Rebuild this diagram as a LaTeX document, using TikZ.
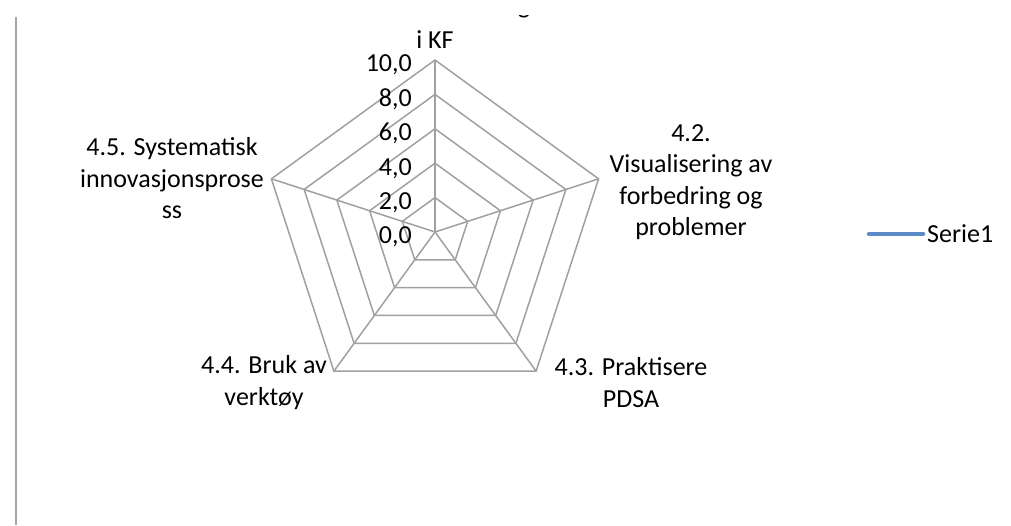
\documentclass[tikz,border=0pt]{standalone}
\usepackage{fontspec}
\setmainfont{Carlito}
\definecolor{gridgray}{HTML}{A0A0A0}
\definecolor{axisgray}{HTML}{A6A6A6}
\definecolor{serieblue}{HTML}{5B8BC8}
\begin{document}
\begin{tikzpicture}[x=1pt,y=1pt,
  grid/.style={draw=gridgray, line width=1.5pt, line join=miter},
  lbl/.style={align=center, font=\fontsize{26}{31.5}\selectfont, inner sep=0pt, anchor=base},
  ticklbl/.style={anchor=base east, font=\fontsize{26}{31.5}\selectfont, inner sep=0pt}]
\useasboundingbox (0,0) rectangle (1011,525);
% left frame line
\coordinate (ftop) at (15.5,508);
\coordinate (fbot) at (15.5,0);
\draw[axisgray, line width=2pt] (ftop) -- (fbot);
% clipped title fragment
\begin{scope}
  \clip (0,0) rectangle (1011,509.5);
  \node[lbl] (clipg) at (524,511.5) {g};
\end{scope}
% centre and vertices
\coordinate (C) at (435,293);
\foreach \i/\a in {1/90,2/18,3/-54,4/-126,5/162}{
  \coordinate (v\i) at ([shift={(\a:172)}]C);
}
% rings
\foreach \r in {34.4,68.8,103.2,137.6,172}{
  \draw[grid] ([shift={(90:\r)}]C) -- ([shift={(18:\r)}]C) -- ([shift={(-54:\r)}]C)
     -- ([shift={(-126:\r)}]C) -- ([shift={(162:\r)}]C) -- cycle;
}
% axes
\foreach \i in {1,...,5}{ \draw[grid] (C) -- (v\i); }
% tick labels
\foreach \k/\t in {0/{0,0},1/{2,0},2/{4,0},3/{6,0},4/{8,0},5/{10,0}}{
  \node[ticklbl] (t\k) at (412,{293+34.4*\k-12}) {\t};
}
% axis labels (anchor base = baseline of last line)
\node[lbl] (l1) at (435,476) {i KF};
\node[lbl] (l2) at (691,289) {4.2.\\Visualisering av\\forbedring og\\problemer};
\node[lbl] (l3) at (631,118) {4.3. Praktisere\\PDSA};
\node[lbl] (l4) at (264,120) {4.4. Bruk av\\verktøy};
\node[lbl] (l5) at (172,306) {4.5. Systematisk\\innovasjonsprose\\ss};
% legend
\coordinate (lga) at (869,291);
\coordinate (lgb) at (923,291);
\draw[serieblue, line width=4.5pt, line cap=round] (lga) -- (lgb);
\node[lbl, anchor=base west] (lgt) at (927,282) {Serie1};
\end{tikzpicture}
\end{document}
